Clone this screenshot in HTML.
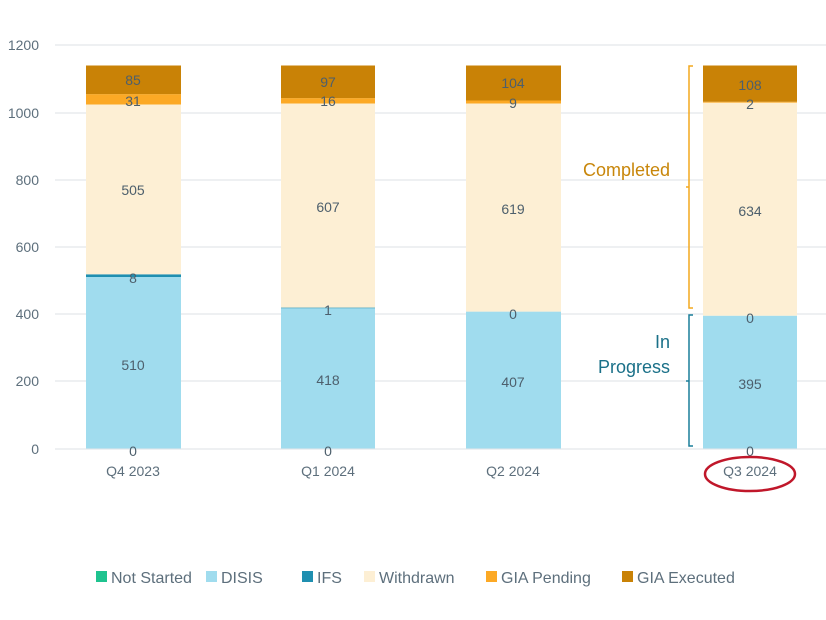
<!DOCTYPE html>
<html><head><meta charset="utf-8"><style>
body{margin:0;background:#fff;}
svg{display:block;font-family:"Liberation Sans",sans-serif;}
</style></head><body>
<svg width="826" height="620" viewBox="0 0 826 620">
<g stroke="#e3e6ea" stroke-width="1.2">
<line x1="55" y1="45" x2="826" y2="45"/><line x1="55" y1="113" x2="826" y2="113"/>
<line x1="55" y1="180" x2="826" y2="180"/><line x1="55" y1="247" x2="826" y2="247"/>
<line x1="55" y1="314" x2="826" y2="314"/><line x1="55" y1="381" x2="826" y2="381"/>
<line x1="55" y1="449" x2="826" y2="449"/>
</g>
<g fill="#5d6f7c" font-size="14" text-anchor="end">
<text x="39" y="50">1200</text><text x="39" y="118">1000</text><text x="39" y="185">800</text>
<text x="39" y="252">600</text><text x="39" y="319">400</text><text x="39" y="386">200</text><text x="39" y="454">0</text>
</g>
<!-- Q4 -->
<rect x="86" y="277" width="95" height="171.5" fill="#a0dcee"/>
<rect x="86" y="274.3" width="95" height="2.7" fill="#1f8fb0"/>
<rect x="86" y="104.5" width="95" height="169.8" fill="#fdefd4"/>
<rect x="86" y="94.1" width="95" height="10.4" fill="#fca925"/>
<rect x="86" y="65.5" width="95" height="28.6" fill="#c98206"/>
<!-- Q1 -->
<rect x="281" y="307.9" width="94" height="140.6" fill="#a0dcee"/>
<rect x="281" y="307.6" width="94" height="0.6" fill="#1f8fb0"/>
<rect x="281" y="103.5" width="94" height="204.1" fill="#fdefd4"/>
<rect x="281" y="98.1" width="94" height="5.4" fill="#fca925"/>
<rect x="281" y="65.5" width="94" height="32.6" fill="#c98206"/>
<!-- Q2 -->
<rect x="466" y="311.6" width="95" height="136.9" fill="#a0dcee"/>
<rect x="466" y="103.5" width="95" height="208.1" fill="#fdefd4"/>
<rect x="466" y="100.5" width="95" height="3" fill="#fca925"/>
<rect x="466" y="65.5" width="95" height="35" fill="#c98206"/>
<!-- Q3 -->
<rect x="703" y="315.7" width="94" height="132.8" fill="#a0dcee"/>
<rect x="703" y="102.5" width="94" height="213.2" fill="#fdefd4"/>
<rect x="703" y="101.8" width="94" height="0.8" fill="#fca925"/>
<rect x="703" y="65.5" width="94" height="36.3" fill="#c98206"/>
<g fill="#4d5f6c" font-size="14" text-anchor="middle">
<text x="133" y="85">85</text><text x="133" y="106">31</text><text x="133" y="195">505</text><text x="133" y="283">8</text><text x="133" y="370">510</text><text x="133" y="456">0</text>
<text x="328" y="87">97</text><text x="328" y="106">16</text><text x="328" y="212">607</text><text x="328" y="315">1</text><text x="328" y="385">418</text><text x="328" y="456">0</text>
<text x="513" y="88">104</text><text x="513" y="108">9</text><text x="513" y="214">619</text><text x="513" y="319">0</text><text x="513" y="387">407</text>
<text x="750" y="90">108</text><text x="750" y="109">2</text><text x="750" y="216">634</text><text x="750" y="323">0</text><text x="750" y="389">395</text><text x="750" y="456">0</text>
</g>
<g fill="#5d6f7c" font-size="14" text-anchor="middle">
<text x="133" y="476">Q4 2023</text><text x="328" y="476">Q1 2024</text><text x="513" y="476">Q2 2024</text><text x="750" y="476">Q3 2024</text>
</g>
<ellipse cx="750" cy="474" rx="45" ry="17" fill="none" stroke="#c0172a" stroke-width="2.5"/>
<path d="M693 66 H689 V308 H693 M689 187 H686" fill="none" stroke="#f3a81e" stroke-width="1.5"/>
<path d="M693 315 H689 V446 H693 M689 381 H686" fill="none" stroke="#1a7f9a" stroke-width="1.5"/>
<g font-size="18" text-anchor="end">
<text x="670" y="176" fill="#c8860a">Completed</text>
<text x="670" y="348" fill="#1a7088">In</text>
<text x="670" y="373" fill="#1a7088">Progress</text>
</g>
<g font-size="16" fill="#5d6f7c">
<rect x="96" y="571" width="11" height="11" fill="#1fc38f"/><text x="111" y="583">Not Started</text>
<rect x="206" y="571" width="11" height="11" fill="#a0dcee"/><text x="221" y="583">DISIS</text>
<rect x="302" y="571" width="11" height="11" fill="#1f8fb0"/><text x="317" y="583">IFS</text>
<rect x="364" y="571" width="11" height="11" fill="#fdefd4"/><text x="379" y="583">Withdrawn</text>
<rect x="486" y="571" width="11" height="11" fill="#fca925"/><text x="501" y="583">GIA Pending</text>
<rect x="622" y="571" width="11" height="11" fill="#c98206"/><text x="637" y="583">GIA Executed</text>
</g>
</svg>
</body></html>
